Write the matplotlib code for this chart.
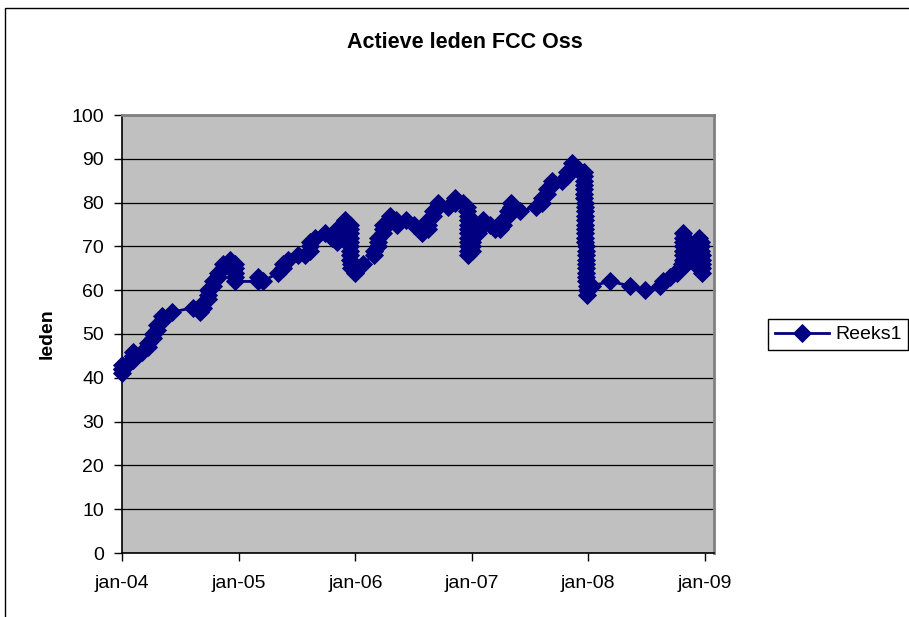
import matplotlib
matplotlib.use("Agg")
import matplotlib.pyplot as plt
import pandas as pd
from matplotlib.patches import Rectangle

plt.rcParams['font.family'] = ['Liberation Sans', 'DejaVu Sans']

# ---- data: each group = first date of a run of records, values recorded in quick succession
group_dates = [
    "2004-01-01", "2004-01-17", "2004-02-04", "2004-03-04", "2004-03-22", "2004-04-07",
    "2004-04-20", "2004-05-05", "2004-06-06", "2004-08-10", "2004-09-01", "2004-09-11",
    "2004-09-26", "2004-10-12", "2004-10-28", "2004-11-12", "2004-12-04", "2004-12-20",
    "2005-03-02", "2005-03-18", "2005-05-04", "2005-05-19", "2005-06-04", "2005-07-05",
    "2005-07-27", "2005-08-12", "2005-08-28", "2005-09-28", "2005-10-20", "2005-11-05",
    "2005-11-28", "2005-12-14", "2006-01-01", "2006-01-25", "2006-02-28", "2006-03-13",
    "2006-03-29", "2006-04-18", "2006-05-10", "2006-06-10", "2006-07-05", "2006-07-29",
    "2006-08-17", "2006-09-01", "2006-09-17", "2006-10-18", "2006-11-10", "2006-12-05",
    "2006-12-18", "2007-01-02", "2007-01-20", "2007-02-05", "2007-02-27", "2007-03-15",
    "2007-03-30", "2007-04-09", "2007-04-24", "2007-05-05", "2007-06-01", "2007-07-20",
    "2007-08-10", "2007-08-25", "2007-09-09", "2007-10-10", "2007-10-25", "2007-11-11",
    "2007-11-28", "2007-12-18", "2008-01-13", "2008-03-09", "2008-05-11", "2008-06-27",
    "2008-08-13", "2008-08-22", "2008-09-13", "2008-10-05", "2008-10-15", "2008-10-22",
    "2008-10-30", "2008-12-12", "2008-12-20",
]
group_values = [
    [42, 41, 42, 43], [43], [44, 45, 46, 45], [46], [47, 48], [49, 50],
    [51, 52], [53, 54], [55], [56], [55], [56, 57],
    [58, 59, 60], [61, 62], [63, 64], [65, 66], [66, 67], [66, 65, 64, 63, 62],
    [62, 63], [62], [64], [65, 66], [67], [68],
    [68], [69, 70, 71], [72], [73], [72], [71, 72, 73, 74],
    [75, 76], [75, 74, 73, 72, 71, 70, 69, 68, 67, 66, 65], [64, 65], [66], [68, 69], [70, 71, 72],
    [73, 74, 75], [76, 77], [76, 75], [76], [75], [74, 73],
    [74, 75, 76], [77, 78], [79, 80], [79], [80, 81], [80],
    [79, 78, 77, 76, 75, 74, 73, 72, 71, 70, 69, 68], [69, 70, 71, 72], [73, 74], [75, 76], [75], [74],
    [74], [75, 76], [77, 78], [79, 80], [78], [79],
    [80, 81], [82, 83], [84, 85], [85], [86, 87], [88, 89],
    [88], [87, 86, 85, 84, 83, 82, 81, 80, 79, 78, 77, 76, 75, 74, 73, 72, 71, 70, 69, 68,
           67, 66, 65, 64, 63, 62, 61, 60, 59], [61], [62], [61], [60],
    [61], [62], [63], [64], [65], [66, 67, 68, 69, 70, 71, 72, 73],
    [72, 71, 70, 69, 68, 67, 66], [65, 66, 67, 68, 69, 70, 71, 72], [71, 70, 69, 68, 67, 66, 65, 64],
]
series_name = "Reeks1"
tick_dates = ["2004-01-01", "2005-01-01", "2006-01-01", "2007-01-01", "2008-01-01", "2009-01-01"]
tick_labels = ["jan-04", "jan-05", "jan-06", "jan-07", "jan-08", "jan-09"]
y_ticks = [0, 10, 20, 30, 40, 50, 60, 70, 80, 90, 100]
title = "Actieve leden FCC Oss"
y_label = "leden"

dates, values = [], []
for d, vals in zip(group_dates, group_values):
    start = pd.Timestamp(d)
    for i, v in enumerate(vals):
        dates.append(start + pd.Timedelta(hours=8 * i))
        values.append(v)

W, H = 909, 617
fig = plt.figure(figsize=(W / 100, H / 100), dpi=100)
fig.patch.set_facecolor('white')

L, R, T, B = 122, 714, 115, 553
ax = fig.add_axes([L / W, 1 - B / H, (R - L) / W, (B - T) / H])
ax.set_facecolor('#C0C0C0')

line, = ax.plot(dates, values, color='#000080', lw=2.0, marker='D', markersize=9.5,
                markerfacecolor='#000080', markeredgecolor='#000080', markeredgewidth=0.6,
                label=series_name, zorder=3, clip_on=False)

ax.set_ylim(0, 100)
ax.set_yticks(y_ticks)
ax.set_xlim(pd.Timestamp("2004-01-01"), pd.Timestamp("2009-01-29"))
ax.set_xticks([pd.Timestamp(t) for t in tick_dates], tick_labels)
ax.grid(axis='y', color='black', lw=0.9, zorder=1)
ax.set_axisbelow(True)

for s in ['left', 'bottom']:
    ax.spines[s].set_color('black')
    ax.spines[s].set_linewidth(1.2)
for s in ['top', 'right']:
    ax.spines[s].set_color('#808080')
    ax.spines[s].set_linewidth(2)

ax.tick_params(axis='both', direction='out', length=6, width=1, color='black', labelsize=14)
ax.tick_params(axis='y', pad=7)
ax.tick_params(axis='x', pad=10)

ax.set_ylabel(y_label, fontsize=14, fontweight='bold')
ax.yaxis.set_label_coords((56 - L) / (R - L), 0.5)

fig.text(465 / W, 1 - 43 / H, title, ha='center', va='center', fontsize=15.5, fontweight='bold')

leg = fig.legend(handles=[line], loc='center left', bbox_to_anchor=(768 / W, 1 - 334.5 / H),
                 fontsize=14, frameon=True, fancybox=False, framealpha=1, edgecolor='black',
                 handlelength=2.8, handletextpad=0.3, borderpad=0.35, borderaxespad=0)
leg.get_frame().set_linewidth(1)

fig.patches.append(Rectangle((5 / W, -0.5), 2, (1 - 8 / H) + 0.5, transform=fig.transFigure,
                             fill=False, edgecolor='black', linewidth=1))

fig.savefig("out.png", dpi=100)
